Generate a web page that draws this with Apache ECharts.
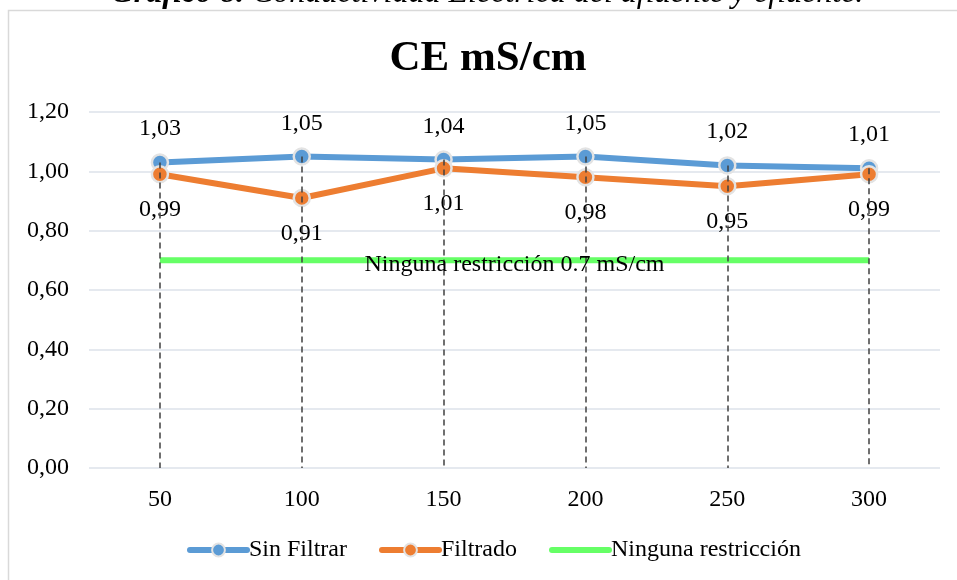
<!DOCTYPE html>
<html>
<head>
<meta charset="utf-8">
<script src="https://cdn.jsdelivr.net/npm/echarts@6/dist/echarts.min.js"></script>
<style>html,body{margin:0;padding:0;background:#fff;}#c{width:957px;height:580px;}</style>
</head>
<body>
<div id="c"></div>
<script>
var categories = ['50', '100', '150', '200', '250', '300'];
var sinFiltrar = [1.03, 1.05, 1.04, 1.05, 1.02, 1.01];
var filtrado = [0.99, 0.91, 1.01, 0.98, 0.95, 0.99];
var restriccion = [0.7, 0.7, 0.7, 0.7, 0.7, 0.7];
var yTicks = [0, 0.2, 0.4, 0.6, 0.8, 1.0, 1.2];

var FONT = '"Liberation Serif", "Times New Roman", serif';
var FS = 24;
function fmt(v) { return Number(v).toFixed(2).replace('.', ','); }

var chart = echarts.init(document.getElementById('c'));

var dropData = categories.map(function (c, i) {
  return [{ coord: [c, Math.max(sinFiltrar[i], filtrado[i])] }, { coord: [c, 0] }];
});

chart.setOption({
  backgroundColor: '#fff',
  animation: false,
  textStyle: { fontFamily: FONT, color: '#000' },
  graphic: [
    { type: 'rect', shape: { x: 8.5, y: 10.5, width: 960, height: 600 }, style: { fill: 'none', stroke: '#d9d9d9', lineWidth: 1.5 }, z: -10 },
    { type: 'text', x: 487, y: 10, style: { text: '{b|Gráfico 8.} Conductividad Eléctrica del afluente y efluente.', align: 'center', verticalAlign: 'bottom', rich: { b: { font: 'italic bold 32px ' + FONT, fill: '#000' } }, font: 'italic 32px ' + FONT, fill: '#000' }, z: 10 }
  ],
  title: {
    text: 'CE mS/cm', left: 483, textAlign: 'center', top: 32,
    textStyle: { fontFamily: FONT, fontSize: 43, fontWeight: 'bold', color: '#000' }
  },
  legend: {
    bottom: 13, left: 182, itemWidth: 57, itemHeight: 16, itemGap: 32,
    textStyle: { fontFamily: FONT, fontSize: FS, color: '#000', padding: [0, 0, 0, -3] },
    lineStyle: { width: 6, cap: 'round' },
    data: ['Sin Filtrar', 'Filtrado', { name: 'Ninguna restricción', itemStyle: { opacity: 0 } }]
  },
  grid: { left: 89, right: 17, top: 112, bottom: 112, containLabel: false },
  xAxis: {
    type: 'category', data: categories, boundaryGap: true,
    axisLine: { show: false }, axisTick: { show: false },
    axisLabel: { fontFamily: FONT, fontSize: FS, color: '#000', margin: 20 }
  },
  yAxis: {
    type: 'value', min: 0, max: 1.2, interval: 0.2,
    axisLine: { show: false }, axisTick: { show: false },
    axisLabel: { fontFamily: FONT, fontSize: FS, color: '#000', margin: 20, formatter: fmt },
    splitLine: { lineStyle: { color: '#dde2ea', width: 1.5 } }
  },
  series: [
    {
      name: 'Ninguna restricción', type: 'line', data: restriccion, symbol: 'none', z: 1,
      lineStyle: { color: '#66ff66', width: 6 }, itemStyle: { color: '#66ff66' },
      markLine: {
        silent: true, symbol: 'none',
        lineStyle: { color: 'rgba(0,0,0,0)', width: 0 },
        label: { show: true, position: 'insideMiddleBottom', distance: -8, formatter: 'Ninguna restricción 0.7 mS/cm', fontFamily: FONT, fontSize: FS, color: '#000' },
        data: [[{ coord: [categories[0], restriccion[0]] }, { coord: [categories[5], restriccion[5]] }]]
      }
    },
    {
      name: 'Sin Filtrar', type: 'line', data: sinFiltrar, z: 3,
      symbol: 'circle', symbolSize: 16,
      lineStyle: { color: '#5b9bd5', width: 6 },
      itemStyle: { color: '#5b9bd5', borderColor: '#e3e3e3', borderWidth: 2.5 },
      label: { show: true, position: 'top', distance: 12, formatter: function (p) { return fmt(p.value); }, fontFamily: FONT, fontSize: FS, color: '#000' }
    },
    {
      name: 'Filtrado', type: 'line', data: filtrado, z: 3,
      symbol: 'circle', symbolSize: 16,
      lineStyle: { color: '#ed7d31', width: 6 },
      itemStyle: { color: '#ed7d31', borderColor: '#e3e3e3', borderWidth: 2.5 },
      label: { show: true, position: 'bottom', distance: 14, formatter: function (p) { return fmt(p.value); }, fontFamily: FONT, fontSize: FS, color: '#000' }
    },
    {
      name: 'drop', type: 'line', data: [], z: 4, silent: true,
      markLine: {
        silent: true, symbol: 'none', z: 4,
        lineStyle: { color: '#404040', width: 1.5, type: [6, 4] },
        label: { show: false },
        data: dropData
      }
    }
  ]
});
</script>
</body>
</html>
